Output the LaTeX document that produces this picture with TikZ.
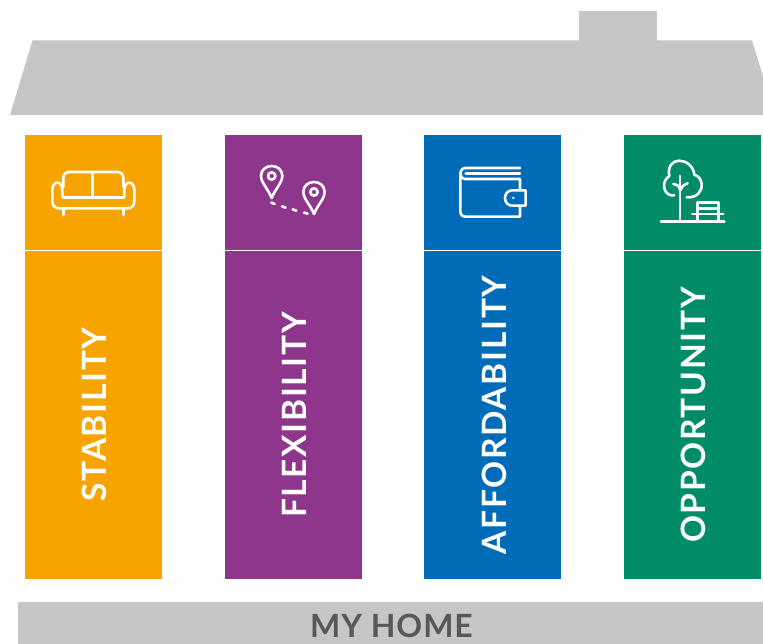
\documentclass[tikz,border=0pt]{standalone}
\usepackage{fontspec}
\setmainfont{Lato}
\newfontfamily\pillarfont[LetterSpace=5]{Lato Bold}
\newfontfamily\homefont[LetterSpace=3]{Lato Bold}
\definecolor{roofgrey}{HTML}{C6C6C6}
\definecolor{homeink}{HTML}{58585A}
\definecolor{cOrange}{HTML}{F8A400}
\definecolor{cPurple}{HTML}{8E368C}
\definecolor{cBlue}{HTML}{006CB7}
\definecolor{cGreen}{HTML}{008C69}
\tikzset{
  x=1pt,y=-1pt,
  pillarlabel/.style={text=white,rotate=90,inner sep=0pt,anchor=center,font=\pillarfont\fontsize{33.5}{33.5}\selectfont},
  iconline/.style={draw=white,line width=2.6pt,line cap=round,line join=round},
  zoomed/.style={x=0.3333pt,y=-0.3333pt},
}
\begin{document}
\begin{tikzpicture}
\useasboundingbox (0,0) rectangle (763,644);
\clip (0,0) rectangle (763,644);
% roof
\fill[roofgrey] (579,11) rectangle (657,41);
\fill[roofgrey] (32.5,40.5) -- (752,40.5) -- (775,115) -- (10,115) -- cycle;
% pillars
\fill[cOrange] (25,135) rectangle (162,579);
\fill[cPurple] (225,135) rectangle (362,579);
\fill[cBlue] (424,135) rectangle (561,579);
\fill[cGreen] (624,135) rectangle (761,579);
\foreach \xa/\xb in {25/162,225/362,424/561,624/761}
  \draw[white,line width=1pt] (\xa,250.6) -- (\xb,250.6);
% base
\fill[roofgrey] (18,602) rectangle (763,644);
\node[inner sep=0pt,text=homeink,font=\homefont\fontsize{32}{32}\selectfont] (home) at (391.5,626) {MY HOME};
% labels
\node[pillarlabel] (stab) at (94,414.5) {STABILITY};
\node[pillarlabel] (flex) at (294.5,415) {FLEXIBILITY};
\node[pillarlabel] (aff) at (494,415) {AFFORDABILITY};
\node[pillarlabel] (opp) at (693.5,415) {OPPORTUNITY};
% sofa
\begin{scope}[shift={(30,140)},zoomed]
\draw[iconline] (100,140) -- (100,113) .. controls (100,103) and (108,96) .. (118,96) -- (262,96) .. controls (272,96) and (280,103) .. (280,113) -- (280,140);
\draw[iconline] (100,172) -- (280,172);
\draw[iconline] (187,96) -- (187,172);
\draw[iconline] (97,172) -- (97,150) .. controls (97,136) and (90,128) .. (82,128) .. controls (73,128) and (67,138) .. (67,150) -- (67,184) .. controls (67,197) and (75,205) .. (87,205) -- (293,205) .. controls (305,205) and (313,197) .. (313,184) -- (313,150) .. controls (313,138) and (307,128) .. (298,128) .. controls (290,128) and (283,136) .. (283,150) -- (283,172);
\draw[iconline] (100,205) -- (100,225);
\draw[iconline] (280,205) -- (280,225);
\end{scope}
% pins
\begin{scope}[shift={(235,140)},zoomed]
\foreach \cx/\cy in {110/108,237/156}{
  \draw[iconline] (\cx,\cy+66) .. controls (\cx-10,\cy+40) and (\cx-32,\cy+20) .. (\cx-32,\cy) .. controls (\cx-32,\cy-18) and (\cx-18,\cy-30) .. (\cx,\cy-30) .. controls (\cx+18,\cy-30) and (\cx+32,\cy-18) .. (\cx+32,\cy) .. controls (\cx+32,\cy+20) and (\cx+10,\cy+40) .. (\cx,\cy+66) -- cycle;
  \draw[iconline] (\cx,\cy) circle[radius=11];
}
\draw[iconline] (109,188) -- (119,192);
\draw[iconline] (141,199) -- (152,203);
\draw[iconline] (173,208) -- (184,212);
\draw[iconline] (207,218) -- (218,221);
\end{scope}
% wallet
\begin{scope}[shift={(435,140)},zoomed]
\draw[iconline] (255,84) -- (92,84) .. controls (82,84) and (76,92) .. (76,102) -- (76,214) .. controls (76,224) and (82,230) .. (92,230) -- (255,230) -- (255,198);
\draw[iconline] (255,151) -- (255,117) -- (92,117) .. controls (82,117) and (76,110) .. (76,102);
\draw[iconline] (255,100) -- (92,100);
\draw[iconline] (272,151) -- (232,151) .. controls (218,151) and (210,162) .. (210,174) .. controls (210,186) and (218,197) .. (232,197) -- (272,197) -- cycle;
\fill[white] (235,174) circle[radius=4];
\end{scope}
% tree and bench
\begin{scope}[shift={(635,140)},zoomed]
\draw[iconline] (155,172) .. controls (185,174) and (202,155) .. (200,132) .. controls (199,118) and (190,108) .. (178,104) .. controls (176,80) and (155,62) .. (133,62) .. controls (112,62) and (97,80) .. (103,108) .. controls (90,116) and (85,130) .. (88,145) .. controls (92,160) and (102,168) .. (118,166);
\draw[iconline] (135,108) -- (135,245);
\draw[iconline] (135,150) .. controls (133,138) and (125,133) .. (115,132);
\draw[iconline] (137,150) .. controls (140,138) and (148,133) .. (158,130);
\draw[iconline] (78,245) -- (268,245);
\draw[iconline] (187,188) -- (250,188);
\draw[iconline] (187,205) -- (250,205);
\draw[iconline] (172,222) -- (265,222);
\draw[iconline] (187,188) -- (187,245);
\draw[iconline] (250,188) -- (250,245);
\end{scope}
\end{tikzpicture}
\end{document}
